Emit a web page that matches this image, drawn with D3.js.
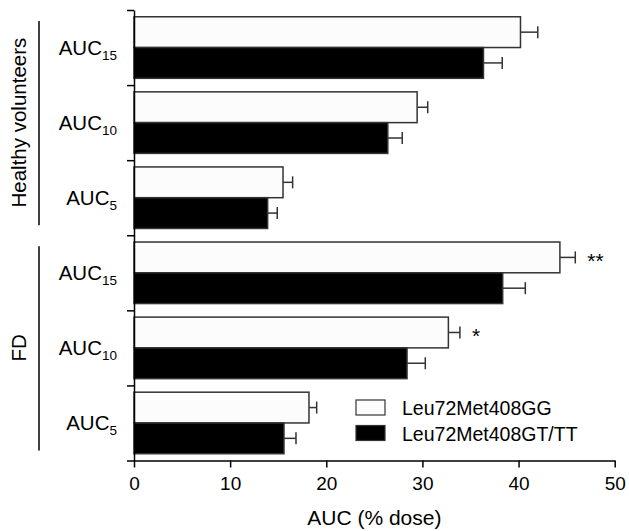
<!DOCTYPE html>
<html lang="en">
<head>
  <meta charset="UTF-8">
  <title>AUC by genotype</title>
  <script src="https://d3js.org/d3.v7.min.js"></script>
  <style>
    body { margin: 0; background: #fff; }
    svg text { font-family: 'Liberation Sans', Arial, sans-serif; fill: #000; }
  </style>
</head>
<body>
  <script>
    const width = 629, height = 531;

    // rows top to bottom
    const groups = ['Healthy volunteers', 'FD'];
    const measureSubs = ['15', '10', '5'];
    const ggValues = [40.2, 29.45, 15.5, 44.3, 32.7, 18.2];
    const ggErrors = [1.8, 1.1, 1.0, 1.6, 1.2, 0.8];
    const gtValues = [36.35, 26.4, 13.9, 38.35, 28.4, 15.6];
    const gtErrors = [1.95, 1.5, 1.0, 2.35, 1.9, 1.25];
    const stars = ['', '', '', '**', '*', ''];
    const xTicks = [0, 10, 20, 30, 40, 50];
    const seriesNames = ['Leu72Met408GG', 'Leu72Met408GT/TT'];
    const seriesFill = ['#fcfcfc', '#000'];

    const rows = [];
    groups.forEach((g, gi) => measureSubs.forEach((s, si) => {
      const i = gi * measureSubs.length + si;
      rows.push({ id: g + s, group: g, sub: s, i });
    }));

    const svg = d3.select('body').append('svg')
      .attr('width', width).attr('height', height);

    const x = d3.scaleLinear().domain([0, 50]).range([134, 614.7]);
    const y = d3.scaleBand().domain(rows.map(r => r.id)).range([10, 460.5]);
    const ySub = d3.scaleBand().domain(['gg', 'gt']).range([0, y.bandwidth()])
      .paddingInner(0).paddingOuter(0.22);
    const yTick = d3.scaleLinear().domain([0, rows.length]).range([10, 460.5]);

    // bars
    const rowG = svg.append('g').selectAll('g').data(rows).join('g')
      .attr('transform', d => `translate(0,${y(d.id)})`);

    const series = [
      { key: 'gg', vals: ggValues, errs: ggErrors, fill: seriesFill[0] },
      { key: 'gt', vals: gtValues, errs: gtErrors, fill: seriesFill[1] }
    ];

    series.forEach(s => {
      const yy = ySub(s.key), bh = ySub.bandwidth();
      // error bar
      rowG.append('line')
        .attr('x1', d => x(s.vals[d.i])).attr('x2', d => x(s.vals[d.i] + s.errs[d.i]))
        .attr('y1', yy + bh / 2).attr('y2', yy + bh / 2)
        .attr('stroke', '#333').attr('stroke-width', 1.5);
      rowG.append('line')
        .attr('x1', d => x(s.vals[d.i] + s.errs[d.i])).attr('x2', d => x(s.vals[d.i] + s.errs[d.i]))
        .attr('y1', yy + bh / 2 - 6).attr('y2', yy + bh / 2 + 6)
        .attr('stroke', '#333').attr('stroke-width', 1.5);
      rowG.append('rect')
        .attr('x', x(0)).attr('y', yy)
        .attr('width', d => x(s.vals[d.i]) - x(0)).attr('height', bh)
        .attr('fill', s.fill).attr('stroke', '#333').attr('stroke-width', 1.5);
    });

    // significance marks
    rowG.filter(d => stars[d.i]).append('text')
      .attr('x', d => x(ggValues[d.i] + ggErrors[d.i]) + 12)
      .attr('y', ySub('gg') + ySub.bandwidth() / 2 + 11)
      .attr('font-size', 21)
      .text(d => stars[d.i]);

    // row labels AUC with subscript
    const lab = rowG.append('text')
      .attr('x', 117).attr('y', y.bandwidth() / 2 + 7.5)
      .attr('text-anchor', 'end').attr('font-size', 20.5);
    lab.append('tspan').text('AUC');
    lab.append('tspan').attr('font-size', 13.5).attr('dy', 5).text(d => d.sub);

    // y axis: ticks at row boundaries
    const yAxis = d3.axisLeft(yTick).tickValues(d3.range(rows.length + 1))
      .tickFormat('').tickSize(7).tickSizeOuter(0);
    svg.append('g').attr('transform', `translate(${x(0)},0)`).call(yAxis)
      .call(g => g.selectAll('line, path').attr('stroke', '#000').attr('stroke-width', 1.5));

    // x axis
    const xAxis = d3.axisBottom(x).tickValues(xTicks).tickSize(7).tickSizeOuter(0).tickPadding(9);
    svg.append('g').attr('transform', `translate(0,${yTick(rows.length)})`).call(xAxis)
      .call(g => g.selectAll('line, path').attr('stroke', '#000').attr('stroke-width', 1.5))
      .call(g => g.selectAll('text').attr('font-size', 19).attr('font-family', "'Liberation Sans', Arial, sans-serif"));

    svg.append('text')
      .attr('x', (x(0) + x(50)) / 2).attr('y', 525)
      .attr('text-anchor', 'middle').attr('font-size', 21)
      .text('AUC (% dose)');

    // group brackets
    groups.forEach((g, gi) => {
      const y0 = y(rows[gi * 3].id), y1 = y(rows[gi * 3 + 2].id) + y.bandwidth();
      svg.append('line')
        .attr('x1', 39).attr('x2', 39).attr('y1', y0 + 11).attr('y2', y1 - 10)
        .attr('stroke', '#000').attr('stroke-width', 1.5);
      svg.append('text')
        .attr('transform', `translate(26,${(y0 + y1) / 2}) rotate(-90)`)
        .attr('text-anchor', 'middle').attr('font-size', 20.5)
        .text(g);
    });

    // legend
    const leg = svg.append('g').attr('transform', 'translate(356,400)');
    seriesNames.forEach((n, i) => {
      leg.append('rect').attr('x', 0).attr('y', i * 25.5).attr('width', 29).attr('height', 15)
        .attr('fill', seriesFill[i]).attr('stroke', '#333').attr('stroke-width', 1.2);
      leg.append('text').attr('x', 46).attr('y', i * 25.5 + 15).attr('font-size', 19.5).text(n);
    });
  </script>
</body>
</html>
